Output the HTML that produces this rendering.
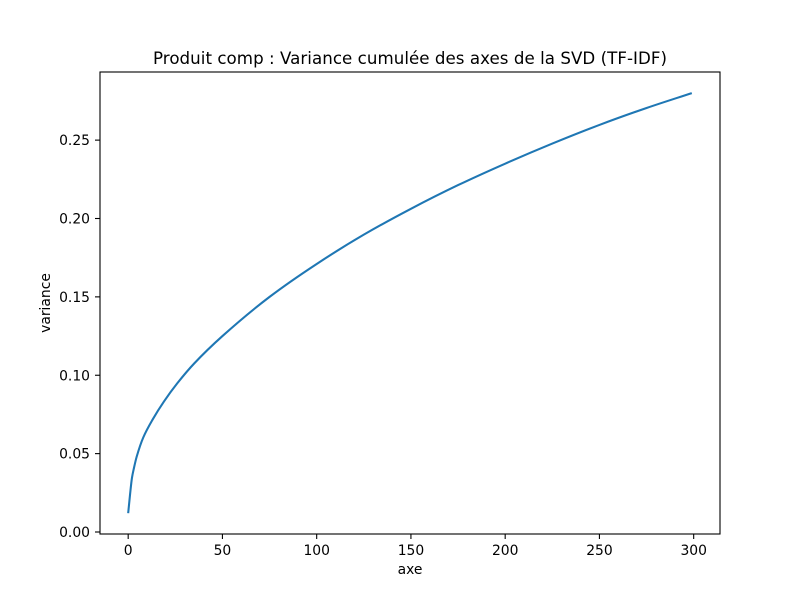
<!DOCTYPE html>
<html>
<head>
<meta charset="utf-8">
<style>
html,body{margin:0;padding:0;background:#fff;}
svg{display:block;font-family:"DejaVu Sans",sans-serif;}
</style>
</head>
<body>
<svg id="chart" xmlns="http://www.w3.org/2000/svg" width="800" height="600" viewBox="0 0 800 600">
<rect x="0" y="0" width="800" height="600" fill="#fff"/>
<text x="153" y="64" textLength="514" lengthAdjust="spacing" font-size="16.67" fill="#000">Produit comp : Variance cumulée des axes de la SVD (TF-IDF)</text>
<g id="x-ticks"></g>
<g id="y-ticks"></g>
<path id="curve" fill="none" stroke="#1f77b4" stroke-width="2.08" stroke-linejoin="round" stroke-linecap="butt"/>
<rect x="100" y="72" width="620" height="462" fill="none" stroke="#000" stroke-width="1.1"/>
<text x="410" y="574" text-anchor="middle" font-size="13.89" fill="#000">axe</text>
<text transform="translate(50 303) rotate(-90)" text-anchor="middle" font-size="13.89" fill="#000">variance</text>
</svg>
<script>
var axisIndex = [0,1,2,3,4.5,8,13,19,26,35,50,75,100,125,150,175,200,225,250,275,299];
var cumulativeVariance = [0.012,0.024,0.0345,0.0405,0.048,0.0603,0.0718,0.0833,0.0948,0.1075,0.125,0.15,0.171,0.1897,0.2062,0.2213,0.235,0.2478,0.2597,0.2705,0.28];
var xTickValues = [0,50,100,150,200,250,300];
var yTickValues = [0,0.05,0.10,0.15,0.20,0.25];
var xTickLabels = ["0","50","100","150","200","250","300"];
var yTickLabels = ["0.00","0.05","0.10","0.15","0.20","0.25"];

var NS = "http://www.w3.org/2000/svg";
function sx(v){ return 128.18 + v * 1.885; }
function sy(v){ return 532 - v * 1567.5; }

var xGroup = document.getElementById("x-ticks");
xTickValues.forEach(function(v, i){
  var l = document.createElementNS(NS, "line");
  
  
  l.setAttribute("x1", sx(v)); l.setAttribute("x2", sx(v));
  l.setAttribute("y1", 534); l.setAttribute("y2", 539);
  l.setAttribute("stroke", "#000"); l.setAttribute("stroke-width", "1.1");
  xGroup.appendChild(l);
  var t = document.createElementNS(NS, "text");
  
  
  t.setAttribute("x", sx(v)); t.setAttribute("y", 555);
  t.setAttribute("text-anchor", "middle");
  t.setAttribute("font-size", "13.89");
  t.setAttribute("fill", "#000");
  t.textContent = xTickLabels[i];
  xGroup.appendChild(t);
});

var yGroup = document.getElementById("y-ticks");
yTickValues.forEach(function(v, i){
  var l = document.createElementNS(NS, "line");
  
  
  l.setAttribute("x1", 95); l.setAttribute("x2", 100);
  l.setAttribute("y1", sy(v)); l.setAttribute("y2", sy(v));
  l.setAttribute("stroke", "#000"); l.setAttribute("stroke-width", "1.1");
  yGroup.appendChild(l);
  var t = document.createElementNS(NS, "text");
  
  
  t.setAttribute("x", 90); t.setAttribute("y", sy(v) + 5);
  t.setAttribute("text-anchor", "end");
  t.setAttribute("font-size", "13.89");
  t.setAttribute("fill", "#000");
  t.textContent = yTickLabels[i];
  yGroup.appendChild(t);
});

/* Monotone cubic path through the data points, so the curve stays smooth. */
function curvePath(xs, ys){
  var n = xs.length, px = [], py = [], slopes = [], tangents = [], i;
  for (i = 0; i < n; i++){ px.push(sx(xs[i])); py.push(sy(ys[i])); }
  for (i = 0; i < n - 1; i++){ slopes.push((py[i+1] - py[i]) / (px[i+1] - px[i])); }
  tangents.push(slopes[0]);
  for (i = 1; i < n - 1; i++){
    tangents.push(slopes[i-1] * slopes[i] <= 0 ? 0 : 2 * slopes[i-1] * slopes[i] / (slopes[i-1] + slopes[i]));
  }
  tangents.push(slopes[n-2]);
  var out = "M" + px[0].toFixed(2) + " " + py[0].toFixed(2);
  for (i = 0; i < n - 1; i++){
    var h = (px[i+1] - px[i]) / 3;
    out += " C" + (px[i] + h).toFixed(2) + " " + (py[i] + tangents[i] * h).toFixed(2) +
           " " + (px[i+1] - h).toFixed(2) + " " + (py[i+1] - tangents[i+1] * h).toFixed(2) +
           " " + px[i+1].toFixed(2) + " " + py[i+1].toFixed(2);
  }
  return out;
}
document.getElementById("curve").setAttribute("d", curvePath(axisIndex, cumulativeVariance));
</script>
</body>
</html>
